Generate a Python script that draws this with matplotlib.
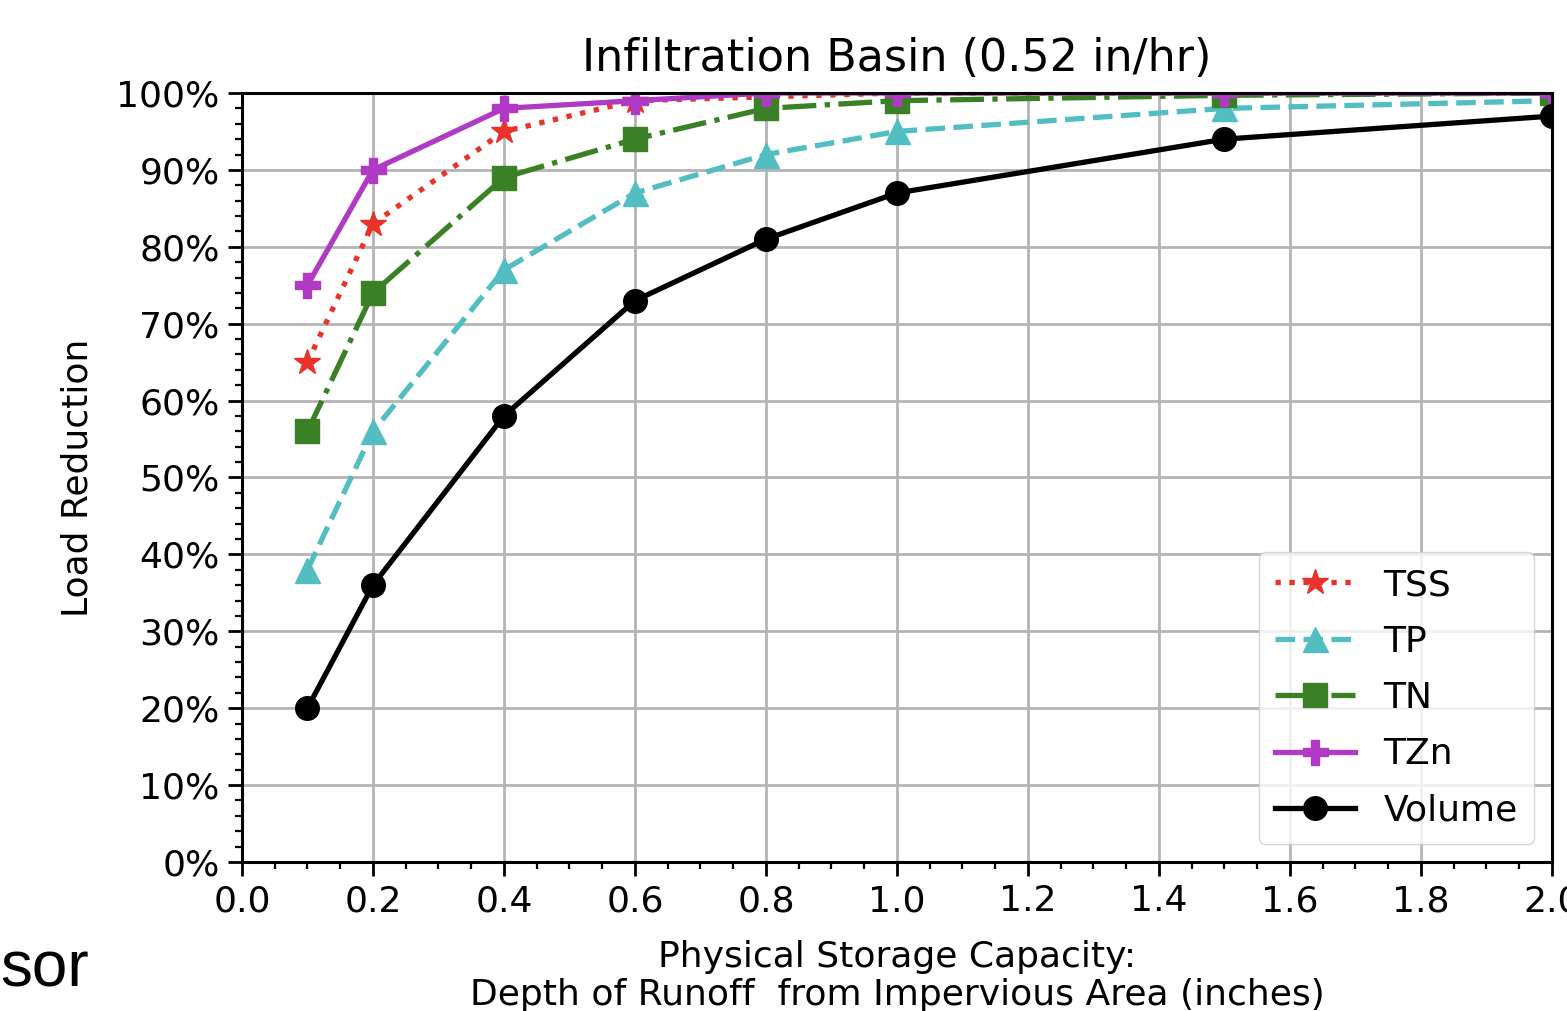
import matplotlib
matplotlib.use("Agg")
import matplotlib.pyplot as plt
from matplotlib.ticker import MultipleLocator, PercentFormatter

# depth of runoff (inches)
depth = [0.1, 0.2, 0.4, 0.6, 0.8, 1.0, 1.5, 2.0]

# load reduction (%)
tss = [65, 83, 95, 99, 99.5, 100, 100, 100]
tp = [38, 56, 77, 87, 92, 95, 98, 99]
tn = [56, 74, 89, 94, 98, 99, 99.7, 100]
tzn = [75, 90, 98, 99, 100, 100, 100, 100]
volume = [20, 36, 58, 73, 81, 87, 94, 97]

labels = ['TSS', 'TP', 'TN', 'TZn', 'Volume']

fs = 26

fig = plt.figure(figsize=(15.67, 10.11), dpi=100)
ax = fig.add_axes([0.1544, 0.1474, 0.836, 0.7606])

ax.plot(depth, tss, ':', color='#e8322a', marker='*', markersize=19, lw=3.8, label=labels[0])
ax.plot(depth, tp, '--', color='#52bec2', marker='^', markersize=18, lw=3.8, label=labels[1])
ax.plot(depth, tn, '-.', color='#3a8024', marker='s', markersize=17, lw=3.8, label=labels[2])
ax.plot(depth, tzn, '-', color='#b03ac6', marker='P', markersize=18, lw=3.8, label=labels[3])
ax.plot(depth, volume, '-', color='black', marker='o', markersize=17, lw=3.8, label=labels[4])

ax.set_xlim(0, 2.0)
ax.set_ylim(0, 100)
ax.xaxis.set_major_locator(MultipleLocator(0.2))
ax.xaxis.set_minor_locator(MultipleLocator(0.05))
ax.yaxis.set_major_locator(MultipleLocator(10))
ax.yaxis.set_minor_locator(MultipleLocator(2))
ax.yaxis.set_major_formatter(PercentFormatter(decimals=0))
ax.xaxis.set_major_formatter(plt.FuncFormatter(lambda v, p: f'{v:.1f}'))

ax.grid(True, which='major', color='#b4b4b4', lw=2)
ax.set_axisbelow(True)
for s in ax.spines.values():
    s.set_linewidth(2.2)
ax.tick_params(which='major', length=10, width=2, labelsize=fs, pad=6)
ax.tick_params(which='minor', length=5, width=1.6)

ax.set_title('Infiltration Basin (0.52 in/hr)', fontsize=32, pad=16)
ax.set_ylabel('Load Reduction', fontsize=fs, labelpad=16)
ax.set_xlabel('Physical Storage Capacity:\nDepth of Runoff  from Impervious Area (inches)',
              fontsize=fs, labelpad=16, linespacing=1.15)

ax.legend(loc='lower right', fontsize=fs, handlelength=2.2, borderpad=0.45,
          labelspacing=0.62, framealpha=0.8, borderaxespad=0.5,
          bbox_to_anchor=(1.0, 0.0))

fig.text(0.0, 0.024, 'sor', fontsize=46, family='Liberation Sans', ha='left', va='baseline')

fig.savefig('out.png', dpi=100)
